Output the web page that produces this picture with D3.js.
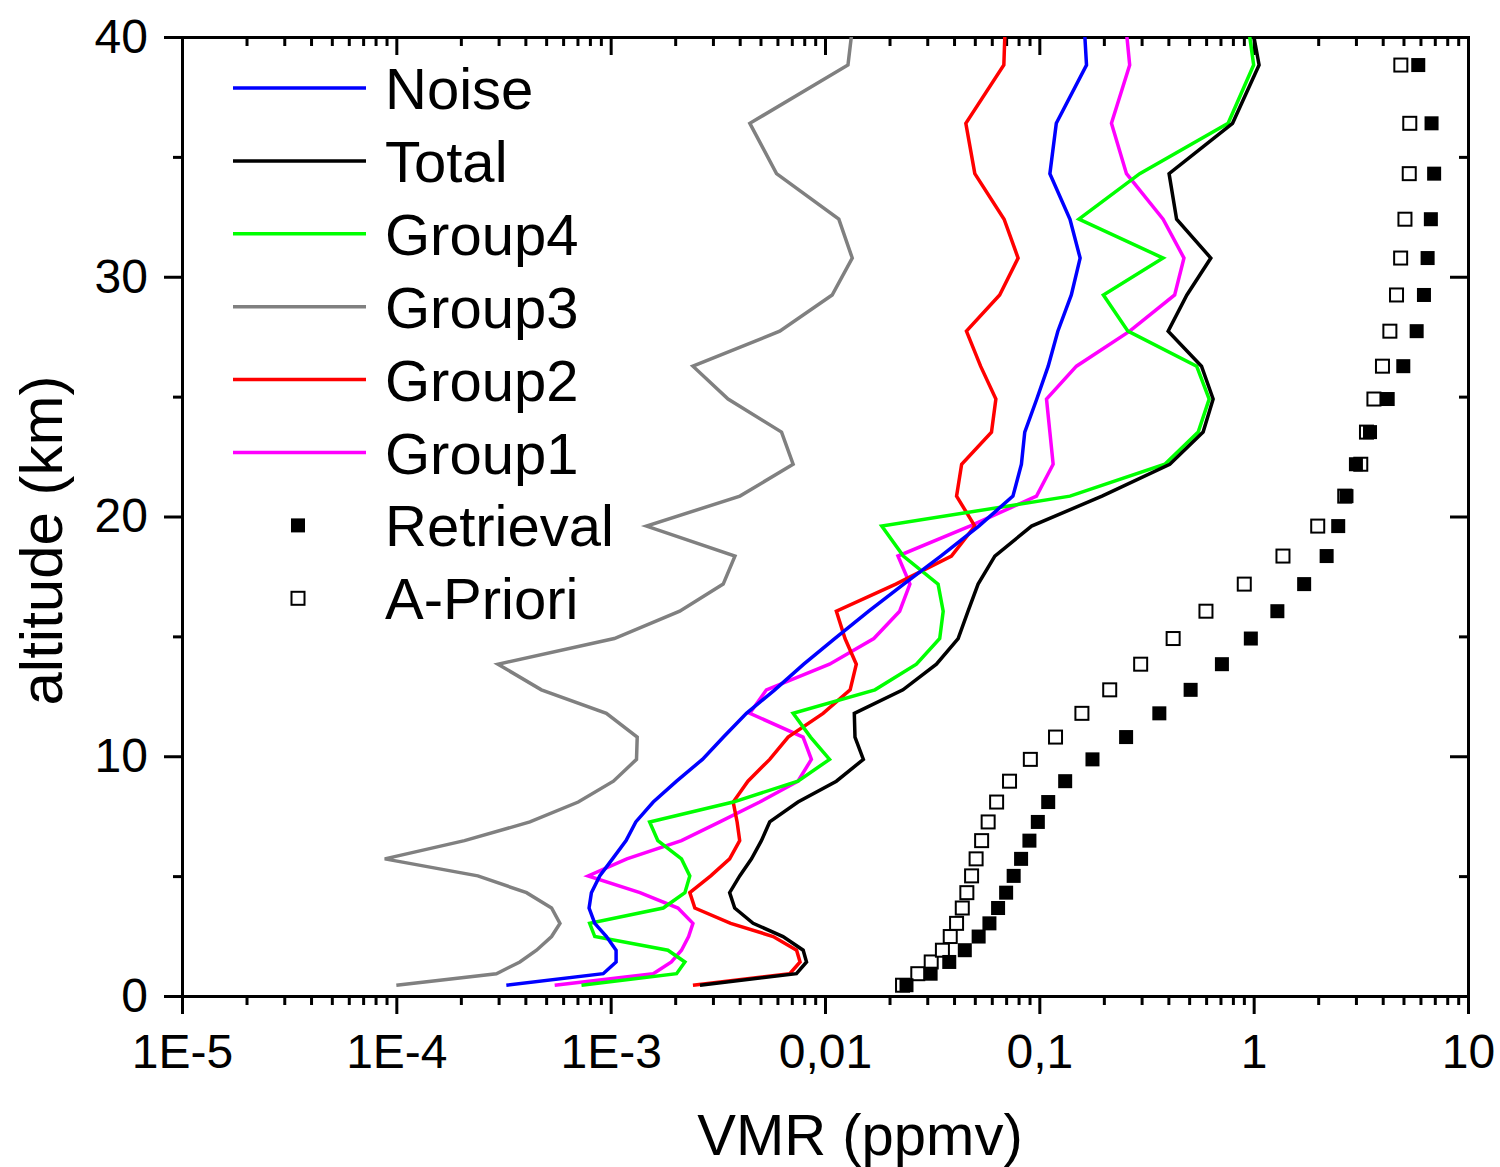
<!DOCTYPE html>
<html>
<head>
<meta charset="utf-8">
<script src="https://cdn.jsdelivr.net/npm/d3@7"></script>
<style>
  body { margin: 0; background: #fff; }
  svg { display: block; font-family: "Liberation Sans", Arial, sans-serif; }
</style>
</head>
<body>
<svg id="drawing_region"></svg>
<script>
// altitude grid (km); the last level sits above the frame and gets clipped
const altitude = [0.45, 0.93, 1.42, 1.91, 2.48, 3.03, 3.67, 4.31, 5.01, 5.72, 6.48, 7.26, 8.09, 8.96, 9.87,
    10.80, 11.79, 12.77, 13.84, 14.91, 16.05, 17.18, 18.35, 19.60, 20.85, 22.18, 23.52, 24.90, 26.27,
    27.73, 29.24, 30.78, 32.40, 34.30, 36.40, 38.83, 41.3];

// VMR (ppmv)
const noise = [3.26e-4, 9.23e-4, 1.06e-3, 1.06e-3, 9.56e-4, 8.43e-4, 7.93e-4, 8.13e-4, 8.89e-4, 1.02e-3,
    1.18e-3, 1.31e-3, 1.58e-3, 2.03e-3, 2.68e-3, 3.36e-3, 4.30e-3, 5.83e-3, 7.96e-3, 1.11e-2, 1.60e-2,
    2.33e-2, 3.47e-2, 5.22e-2, 7.53e-2, 8.25e-2, 8.55e-2, 9.73e-2, 0.110, 0.122, 0.141, 0.155, 0.139,
    0.112, 0.120, 0.166, 0.160];
const total = [2.61e-3, 7.36e-3, 8.20e-3, 7.91e-3, 6.37e-3, 4.62e-3, 3.79e-3, 3.59e-3, 4.00e-3, 4.54e-3,
    5.05e-3, 5.52e-3, 7.48e-3, 1.13e-2, 1.51e-2, 1.38e-2, 1.37e-2, 2.31e-2, 3.31e-2, 4.18e-2, 4.65e-2,
    5.18e-2, 6.20e-2, 9.20e-2, 0.196, 0.406, 0.581, 0.647, 0.571, 0.399, 0.488, 0.631, 0.437, 0.403,
    0.797, 1.06, 0.943];
const group4 = [7.31e-4, 2.03e-3, 2.22e-3, 1.85e-3, 8.43e-4, 7.98e-4, 1.76e-3, 2.22e-3, 2.34e-3, 2.14e-3,
    1.66e-3, 1.52e-3, 3.73e-3, 7.48e-3, 1.05e-2, 8.56e-3, 7.10e-3, 1.71e-2, 2.67e-2, 3.43e-2, 3.56e-2,
    3.37e-2, 2.32e-2, 1.84e-2, 0.139, 0.385, 0.551, 0.620, 0.542, 0.259, 0.199, 0.378, 0.153, 0.294,
    0.760, 1.00, 0.915];
const group3 = [1.0e-4, 2.93e-4, 3.77e-4, 4.51e-4, 5.30e-4, 5.80e-4, 5.30e-4, 4.05e-4, 2.40e-4, 8.83e-5,
    2.08e-4, 4.20e-4, 7.06e-4, 1.03e-3, 1.32e-3, 1.33e-3, 9.55e-4, 4.75e-4, 2.98e-4, 1.04e-3, 2.10e-3,
    3.35e-3, 3.80e-3, 1.47e-3, 4.01e-3, 7.10e-3, 6.27e-3, 3.53e-3, 2.42e-3, 6.15e-3, 1.08e-2, 1.34e-2,
    1.16e-2, 5.94e-3, 4.46e-3, 1.28e-2, 1.38e-2];
const group2 = [2.42e-3, 6.85e-3, 7.65e-3, 7.37e-3, 5.73e-3, 3.63e-3, 2.47e-3, 2.34e-3, 2.93e-3, 3.59e-3,
    4.00e-3, 3.89e-3, 3.73e-3, 4.37e-3, 5.52e-3, 6.73e-3, 9.80e-3, 1.31e-2, 1.40e-2, 1.24e-2, 1.13e-2,
    2.14e-2, 3.89e-2, 5.00e-2, 4.11e-2, 4.34e-2, 5.98e-2, 6.27e-2, 5.32e-2, 4.57e-2, 6.53e-2, 7.96e-2,
    6.85e-2, 5.00e-2, 4.54e-2, 6.83e-2, 6.98e-2];
const group1 = [5.48e-4, 1.58e-3, 1.92e-3, 2.14e-3, 2.31e-3, 2.42e-3, 2.06e-3, 1.37e-3, 7.85e-4, 1.19e-3,
    2.14e-3, 3.23e-3, 4.96e-3, 7.48e-3, 8.64e-3, 7.90e-3, 4.46e-3, 5.33e-3, 1.05e-2, 1.69e-2, 2.23e-2,
    2.49e-2, 2.19e-2, 4.74e-2, 9.70e-2, 0.116, 0.112, 0.108, 0.149, 0.264, 0.428, 0.473, 0.378, 0.255,
    0.217, 0.264, 0.248];
const retrieval = [2.40e-2, 3.11e-2, 3.80e-2, 4.49e-2, 5.21e-2, 5.85e-2, 6.42e-2, 7.00e-2, 7.59e-2, 8.22e-2,
    8.99e-2, 9.84e-2, 0.110, 0.132, 0.177, 0.254, 0.363, 0.508, 0.711, 0.970, 1.29, 1.72, 2.19, 2.48,
    2.71, 3.00, 3.49, 4.22, 4.99, 5.76, 6.23, 6.48, 6.71, 6.95, 6.76, 5.86];
const apriori = [2.30e-2, 2.71e-2, 3.13e-2, 3.53e-2, 3.84e-2, 4.11e-2, 4.37e-2, 4.59e-2, 4.83e-2, 5.07e-2,
    5.38e-2, 5.77e-2, 6.32e-2, 7.26e-2, 9.08e-2, 0.119, 0.158, 0.213, 0.297, 0.421, 0.599, 0.904, 1.37,
    1.99, 2.66, 3.16, 3.36, 3.64, 3.99, 4.32, 4.64, 4.85, 5.08, 5.32, 5.35, 4.86];

const xTicks = [1e-5, 1e-4, 1e-3, 1e-2, 1e-1, 1, 10];
const xTickLabels = ["1E-5", "1E-4", "1E-3", "0,01", "0,1", "1", "10"];
const yTicks = [0, 10, 20, 30, 40];
const yMinorTicks = [5, 15, 25, 35];

const lineSeries = [
    {name: 'Noise', values: noise, color: '#0000ff'},
    {name: 'Total', values: total, color: '#000000'},
    {name: 'Group4', values: group4, color: '#00ff00'},
    {name: 'Group3', values: group3, color: '#808080'},
    {name: 'Group2', values: group2, color: '#ff0000'},
    {name: 'Group1', values: group1, color: '#ff00ff'}
];
// drawing order (bottom first)
const drawOrder = ['Group3', 'Group1', 'Group2', 'Group4', 'Noise', 'Total'];

class ProfileChart {
    constructor(config) {
        this.config = config;
        this.init();
    }
    init() {
        let self = this;
        const m = self.config.margin;
        self.svg = d3.select(self.config.parent)
            .attr('width', self.config.width)
            .attr('height', self.config.height);
        self.inner_width = self.config.width - m.left - m.right;
        self.inner_height = self.config.height - m.top - m.bottom;
        self.chart = self.svg.append('g')
            .attr('transform', `translate(${m.left}, ${m.top})`);

        self.xscale = d3.scaleLog()
            .domain([1e-5, 10])
            .range([0, self.inner_width]);
        self.yscale = d3.scaleLinear()
            .domain([0, 40])
            .range([self.inner_height, 0]);

        self.xminor = [];
        for (let k = -5; k < 1; k++) {
            for (let j = 2; j < 10; j++) self.xminor.push(j * Math.pow(10, k));
        }
    }
    styleAxis(g) {
        g.attr('font-family', '"Liberation Sans", Arial, sans-serif')
            .attr('font-size', 48);
        g.selectAll('.domain').attr('stroke-width', 3).attr('stroke-linecap', 'square');
        g.selectAll('.tick line').attr('stroke-width', 3);
        g.selectAll('.tick text').attr('fill', '#000');
    }
    render() {
        let self = this;
        const W = self.inner_width, H = self.inner_height;
        const lw = 3.5;

        // minor ticks first
        self.chart.append('g').attr('transform', `translate(0, ${H})`)
            .call(d3.axisBottom(self.xscale).tickValues(self.xminor).tickSize(9).tickFormat(''))
            .call(g => self.styleAxis(g));
        self.chart.append('g')
            .call(d3.axisTop(self.xscale).tickValues(self.xminor).tickSize(-9).tickFormat(''))
            .call(g => self.styleAxis(g));
        self.chart.append('g')
            .call(d3.axisLeft(self.yscale).tickValues(yMinorTicks).tickSize(9).tickFormat(''))
            .call(g => self.styleAxis(g));
        self.chart.append('g').attr('transform', `translate(${W}, 0)`)
            .call(d3.axisRight(self.yscale).tickValues(yMinorTicks).tickSize(-9).tickFormat(''))
            .call(g => self.styleAxis(g));

        // major ticks
        self.chart.append('g').attr('transform', `translate(0, ${H})`)
            .call(d3.axisBottom(self.xscale).tickValues(xTicks).tickSize(18).tickSizeOuter(0)
                .tickPadding(20).tickFormat((d, i) => xTickLabels[i]))
            .call(g => self.styleAxis(g));
        self.chart.append('g')
            .call(d3.axisTop(self.xscale).tickValues(xTicks).tickSize(-18).tickSizeOuter(0).tickFormat(''))
            .call(g => self.styleAxis(g));
        self.chart.append('g')
            .call(d3.axisLeft(self.yscale).tickValues(yTicks).tickSize(18).tickSizeOuter(0)
                .tickPadding(16).tickFormat(d3.format('d')))
            .call(g => self.styleAxis(g));
        self.chart.append('g').attr('transform', `translate(${W}, 0)`)
            .call(d3.axisRight(self.yscale).tickValues(yTicks).tickSize(-18).tickSizeOuter(0).tickFormat(''))
            .call(g => self.styleAxis(g));

        // axis titles
        self.chart.append('text')
            .text('VMR (ppmv)')
            .attr('x', 678).attr('y', H + 159)
            .attr('text-anchor', 'middle')
            .attr('font-size', 58);
        self.chart.append('text')
            .text('altitude (km)')
            .attr('transform', `translate(-120, ${H / 2 + 24}) rotate(-90)`)
            .attr('text-anchor', 'middle')
            .attr('font-size', 60);

        // profile lines
        self.svg.append('defs').append('clipPath').attr('id', 'plotclip')
            .append('rect').attr('width', W).attr('height', H);
        const plot = self.chart.append('g').attr('clip-path', 'url(#plotclip)');

        self.line = d3.line()
            .x(d => self.xscale(d.v))
            .y(d => self.yscale(d.alt));

        drawOrder.forEach(name => {
            const s = lineSeries.find(e => e.name === name);
            const pts = altitude.map((a, i) => ({alt: a, v: s.values[i]}));
            plot.append('path')
                .attr('d', self.line(pts))
                .attr('fill', 'none')
                .attr('stroke', s.color)
                .attr('stroke-width', lw)
                .attr('stroke-linejoin', 'miter');
        });

        // markers: a-priori (open) below retrieval (filled)
        plot.selectAll('.apriori')
            .data(apriori)
            .enter()
            .append('rect')
            .attr('x', (d, i) => self.xscale(d) - 6.5)
            .attr('y', (d, i) => self.yscale(altitude[i]) - 6.5)
            .attr('width', 13).attr('height', 13)
            .attr('fill', '#fff').attr('stroke', '#000').attr('stroke-width', 2);
        plot.selectAll('.retrieval')
            .data(retrieval)
            .enter()
            .append('rect')
            .attr('x', (d, i) => self.xscale(d) - 7)
            .attr('y', (d, i) => self.yscale(altitude[i]) - 7)
            .attr('width', 14).attr('height', 14)
            .attr('fill', '#000');

        // legend (group origin = left end of the sample lines)
        const legend = self.chart.append('g').attr('transform', 'translate(51, 51)');
        const rowH = 72.9, textX = 152, markX = 65;
        lineSeries.forEach((s, i) => {
            legend.append('line')
                .attr('x1', 0).attr('x2', 133)
                .attr('y1', i * rowH).attr('y2', i * rowH)
                .attr('stroke', s.color).attr('stroke-width', lw);
            legend.append('text')
                .text(s.name)
                .attr('x', textX).attr('y', i * rowH + 21)
                .attr('font-size', 58);
        });
        const n = lineSeries.length;
        legend.append('rect')
            .attr('x', markX - 7).attr('y', n * rowH - 7)
            .attr('width', 14).attr('height', 14).attr('fill', '#000');
        legend.append('text').text('Retrieval')
            .attr('x', textX).attr('y', n * rowH + 21).attr('font-size', 58);
        legend.append('rect')
            .attr('x', markX - 6.5).attr('y', (n + 1) * rowH - 6.5)
            .attr('width', 13).attr('height', 13)
            .attr('fill', '#fff').attr('stroke', '#000').attr('stroke-width', 2);
        legend.append('text').text('A-Priori')
            .attr('x', textX).attr('y', (n + 1) * rowH + 21).attr('font-size', 58);
    }
}

const chart = new ProfileChart({
    parent: '#drawing_region',
    width: 1500,
    height: 1167,
    margin: {top: 37, right: 32, bottom: 171, left: 182}
});
chart.render();
</script>
</body>
</html>
